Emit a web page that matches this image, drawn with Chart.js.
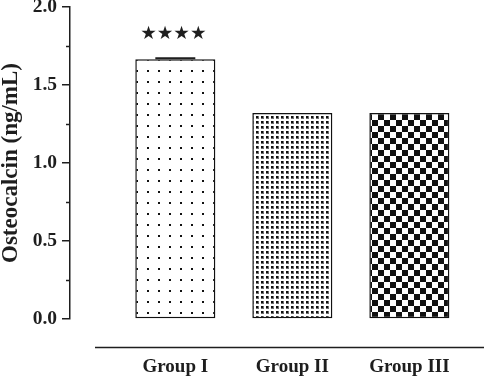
<!DOCTYPE html>
<html>
<head>
<meta charset="utf-8">
<script src="https://cdn.jsdelivr.net/npm/chart.js@4/dist/chart.umd.min.js"></script>
<style>
  html, body { margin: 0; padding: 0; background: #ffffff; }
  canvas { display: block; }
</style>
</head>
<body>
<canvas id="c" width="488" height="380"></canvas>
<script>
// ---- data ----
const categories = ['Group I', 'Group II', 'Group III'];
const osteocalcin = [1.665, 1.32, 1.32];
const errors = [0.006, 0, 0];
const significance = ['★★★★', '', ''];
const yTickValues = [0, 0.5, 1.0, 1.5, 2.0];
const yMinorTickValues = [0.25, 0.75, 1.25, 1.75];

// ---- patterns ----
function makePattern(size, drawFn) {
  const c = document.createElement('canvas');
  c.width = size; c.height = size;
  const g = c.getContext('2d');
  g.fillStyle = '#ffffff';
  g.fillRect(0, 0, size, size);
  g.fillStyle = '#111111';
  drawFn(g, size);
  return document.getElementById('c').getContext('2d').createPattern(c, 'repeat');
}
const sparseDots = makePattern(11, (g) => { g.fillRect(4, 4, 2, 2); });
const denseDots = makePattern(5, (g) => { g.fillRect(1, 1, 2, 2); g.fillStyle = 'rgba(17,17,17,0.6)'; g.fillRect(3, 1, 1, 2); g.fillRect(1, 3, 3, 1); });
const checker = makePattern(12, (g) => { g.fillRect(0, 0, 6, 6); g.fillRect(6, 6, 6, 6); });
const barPatterns = [sparseDots, denseDots, checker];

const textColor = '#1e1e1e';
const serif = "'Liberation Serif', 'Times New Roman', serif";

const decorPlugin = {
  id: 'decor',
  afterDraw(chart) {
    const ctx = chart.ctx;
    const xs = chart.scales.x, ys = chart.scales.y;
    const area = chart.chartArea;
    ctx.save();
    // minor ticks on y axis
    ctx.strokeStyle = textColor;
    ctx.lineWidth = 1.5;
    yMinorTickValues.forEach(v => {
      const py = Math.round(ys.getPixelForValue(v)) + 0.5;
      ctx.beginPath();
      ctx.moveTo(area.left - 4, py);
      ctx.lineTo(area.left, py);
      ctx.stroke();
    });
    // detached x-axis line
    const ly = area.bottom + 28.5;
    ctx.beginPath();
    ctx.moveTo(area.left + 25, ly);
    ctx.lineTo(area.right - 2, ly);
    ctx.stroke();
    // error caps and significance stars
    categories.forEach((cat, i) => {
      const cx = xs.getPixelForValue(i + 1);
      if (errors[i] > 0) {
        const top = ys.getPixelForValue(osteocalcin[i] + errors[i]);
        const base = ys.getPixelForValue(osteocalcin[i]);
        ctx.lineWidth = 2;
        ctx.beginPath();
        ctx.moveTo(cx, base); ctx.lineTo(cx, top);
        ctx.moveTo(cx - 20, top); ctx.lineTo(cx + 20, top);
        ctx.stroke();
      }
      if (significance[i]) {
        ctx.fillStyle = textColor;
        ctx.font = "18.5px 'DejaVu Sans'";
        ctx.textAlign = 'center';
        ctx.textBaseline = 'middle';
        const sy = ys.getPixelForValue(osteocalcin[i] + errors[i]) - 24;
        ctx.fillText(significance[i], cx - 2, sy);
      }
    });
    ctx.restore();
  }
};

new Chart(document.getElementById('c'), {
  type: 'bar',
  data: {
    datasets: [{
      data: osteocalcin.map((v, i) => ({ x: i + 1, y: v })),
      backgroundColor: barPatterns,
      borderColor: '#111111',
      borderWidth: 1.5,
      borderSkipped: false,
      barPercentage: 0.684,
      categoryPercentage: 1.0
    }]
  },
  options: {
    responsive: false,
    animation: false,
    devicePixelRatio: 1,
    layout: { padding: { left: 0, right: 2, top: 0, bottom: 0 } },
    plugins: { legend: { display: false }, tooltip: { enabled: false } },
    scales: {
      x: {
        type: 'linear',
        offset: false,
        min: 0.1,
        max: 3.655,
        grid: { display: false, drawTicks: false, offset: false },
        border: { display: false },
        afterBuildTicks: (s) => { s.ticks = categories.map((c, i) => ({ value: i + 1 })); },
        afterFit: (s) => { s.height = 61; },
        ticks: {
          padding: 37,
          autoSkip: false,
          maxRotation: 0,
          color: textColor,
          font: { family: serif, size: 19, weight: 'bold' },
          callback: (v) => categories[v - 1]
        }
      },
      y: {
        min: 0,
        max: 2.0,
        afterBuildTicks: (s) => { s.ticks = yTickValues.map(v => ({ value: v })); },
        afterFit: (s) => { s.width = 70; s.paddingTop = 7; },
        grid: { drawOnChartArea: false, drawTicks: true, tickLength: 8, color: textColor, lineWidth: 1.5 },
        border: { display: true, color: textColor, width: 1.5 },
        ticks: {
          padding: 5,
          color: textColor,
          font: { family: serif, size: 19.5, weight: 'bold' },
          callback: (v) => Number(v).toFixed(1)
        },
        title: {
          display: true,
          text: 'Osteocalcin (ng/mL)',
          color: textColor,
          padding: { top: 0, bottom: 0 },
          font: { family: serif, size: 23, weight: 'bold', lineHeight: 1 }
        }
      }
    }
  },
  plugins: [decorPlugin]
});
</script>
</body>
</html>
